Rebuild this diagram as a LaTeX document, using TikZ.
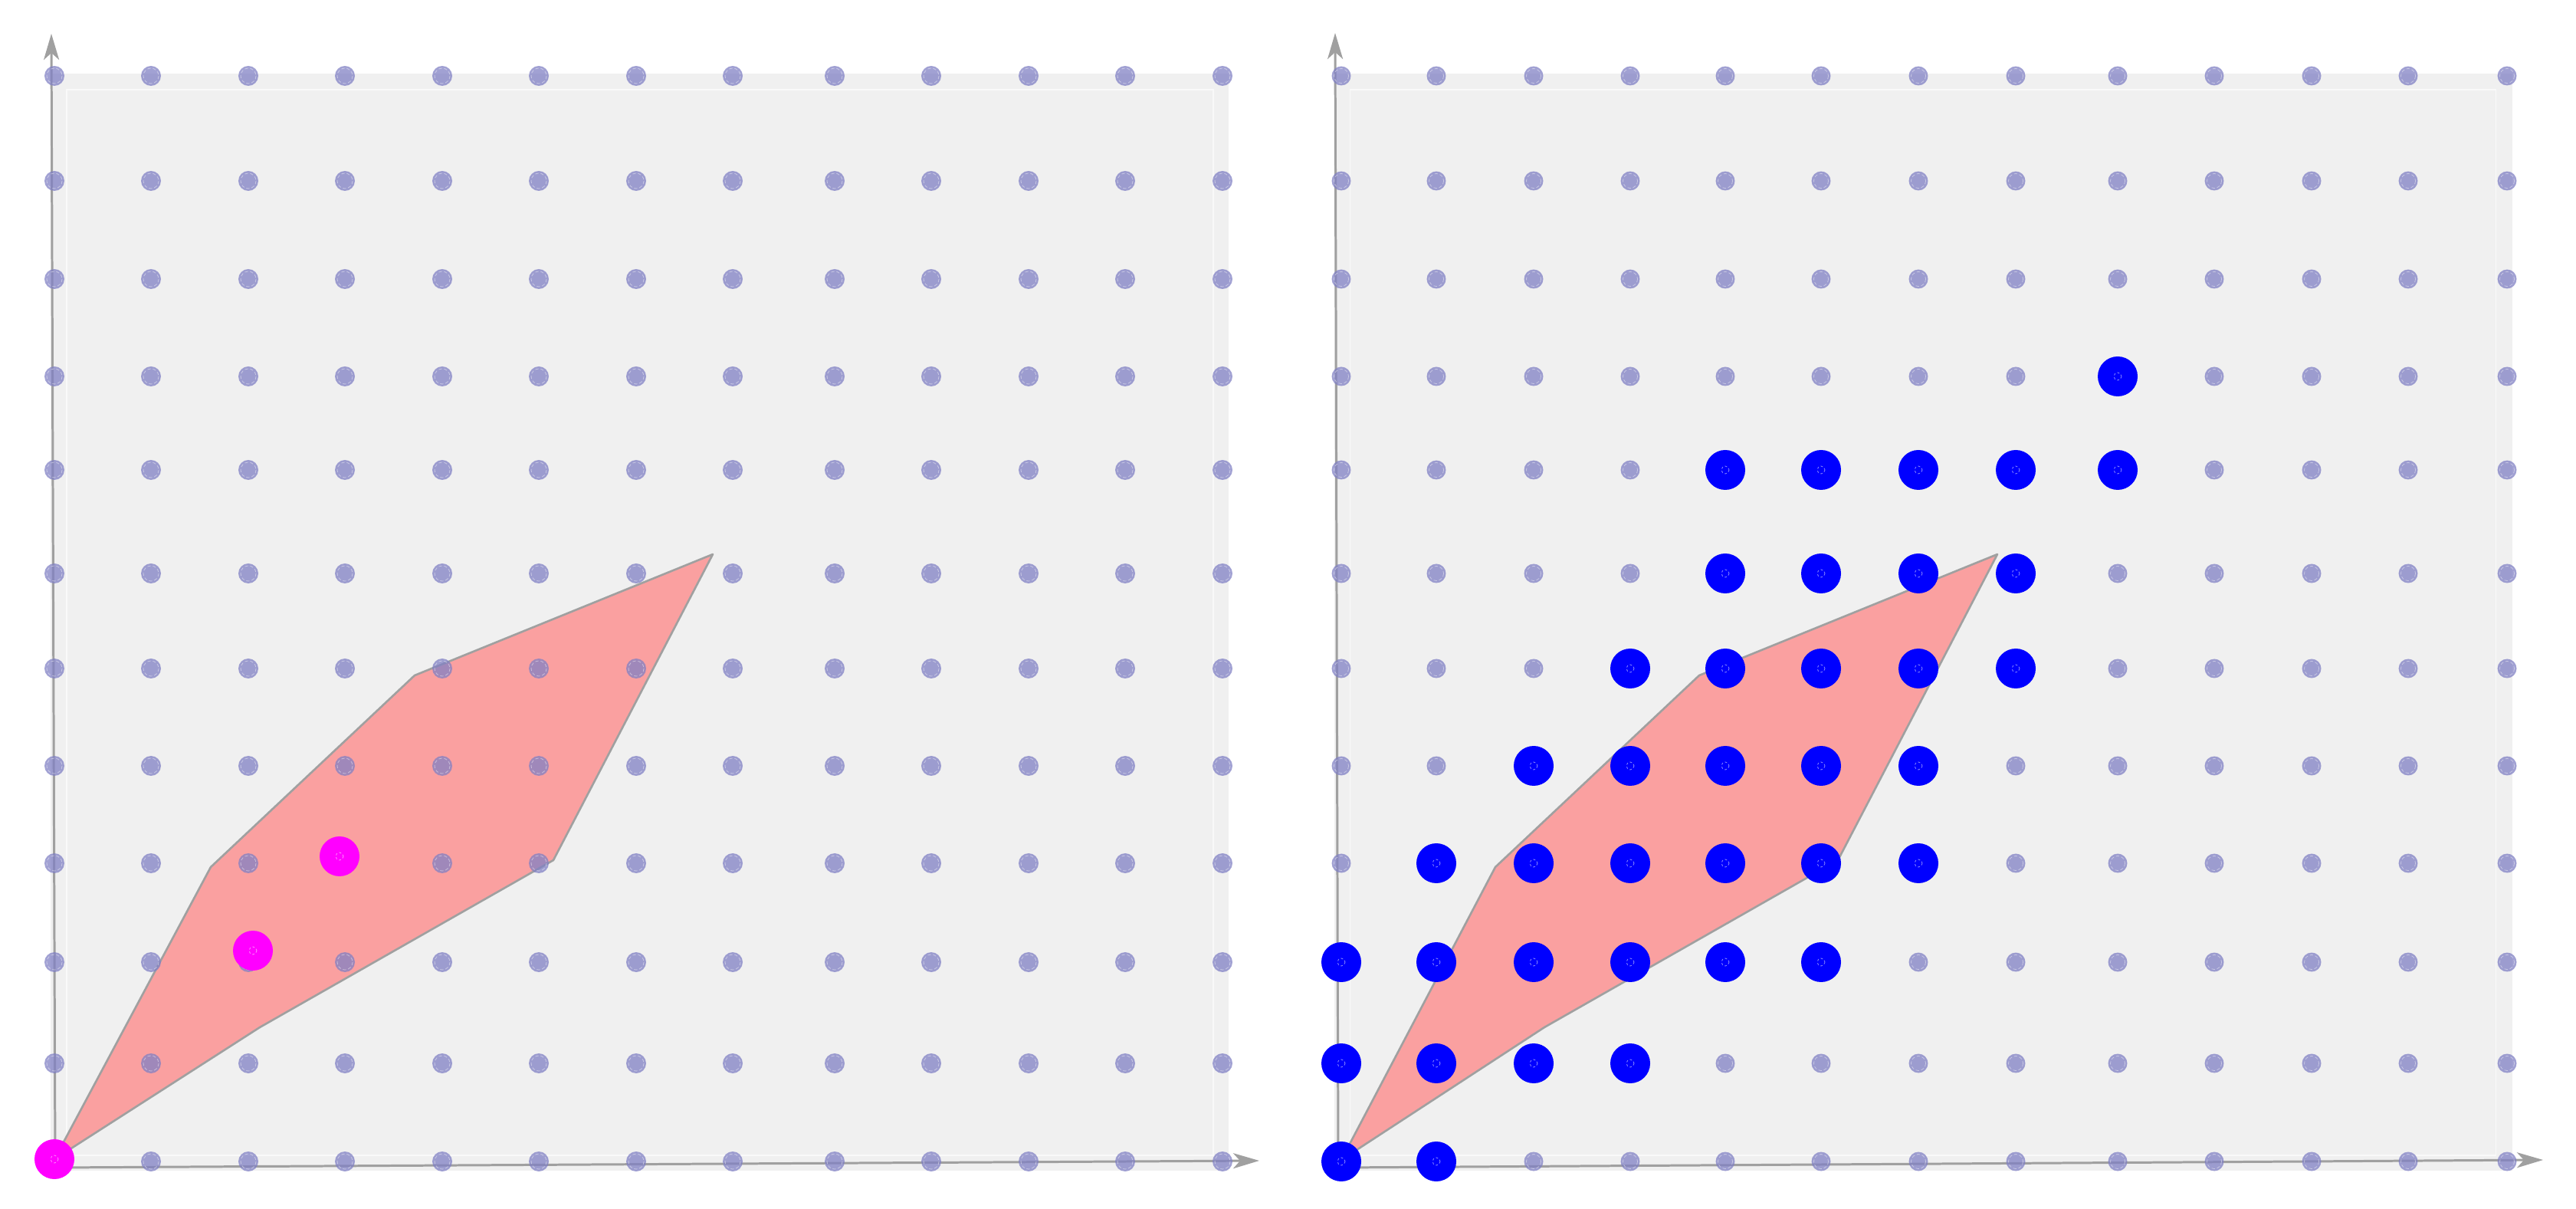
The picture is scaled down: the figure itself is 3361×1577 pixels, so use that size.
\documentclass[tikz,border=0pt]{standalone}
\usetikzlibrary{arrows.meta}
\definecolor{bgg}{RGB}{240,240,240}
\definecolor{axisg}{RGB}{160,160,160}
\definecolor{latt}{RGB}{128,128,196}
\definecolor{salmonfill}{RGB}{250,160,160}
\definecolor{magdot}{RGB}{255,0,255}
\definecolor{bludot}{RGB}{0,0,255}
\begin{document}
\begin{tikzpicture}[x=0.01cm,y=-0.01cm,
  bgbox/.style={fill=bgg},
  innerframe/.style={draw=white,draw opacity=0.6,line width=0.3pt},
  axisline/.style={draw=axisg,line width=0.85pt,-{Stealth[length=0.34cm,width=0.2cm,inset=0.09cm]}},
  region/.style={fill=salmonfill,draw=axisg,line width=0.75pt,line join=round},
  lattdot/.style={fill=latt,fill opacity=0.74},
  ring/.style={draw=white,draw opacity=0.45,line width=0.22pt,dash pattern=on 1.2pt off 0.8pt},
  bigdot/.style={fill=#1},
  smallring/.style={draw=white,draw opacity=0.5,line width=0.25pt,dash pattern=on 0.8pt off 0.8pt}]
\useasboundingbox (0,0) rectangle (3361,1577);
\def\RX{{1750,1874,2001,2127,2251,2376,2503,2630,2763,2889,3016,3142,3271}}
\def\RYY{{1515,1387,1255,1126,999,872,748,613,491,364,236,99}}
% ---------- left panel ----------
\fill[bgbox] (66,96) rectangle (1603,1527);
\draw[innerframe] (87,117) rectangle (1583,1507);
\coordinate (LO) at (72,1523);
\coordinate (LXend) at (1643,1514);
\coordinate (LYend) at (67,44);
\draw[axisline] (LO) -- (LXend);
\draw[axisline] (LO) -- (LYend);
\draw[region] (71,1512) -- (275,1131) -- (541,881) -- (930,723) -- (722,1122) -- (339,1340) -- cycle;
\foreach \x in {71,197,324,450,577,703,830,956,1089,1215,1342,1468,1595}
  \foreach \y in {1515,1387,1255,1126,999,872,748,613,491,364,236,99}
  {\fill[lattdot] (\x,\y) circle (13); \draw[ring] (\x,\y) circle (10);}
\foreach \p in {(71,1512),(330,1240),(443,1117)}
  {\fill[bigdot=magdot] \p circle (26); \draw[smallring] \p circle (5);}
% ---------- right panel ----------
\fill[bgbox] (1741,96) rectangle (3278,1527);
\draw[innerframe] (1761,117) rectangle (3256,1507);
\coordinate (RO) at (1746,1523);
\coordinate (RXend) at (3318,1513);
\coordinate (RYend) at (1742,43);
\draw[axisline] (RO) -- (RXend);
\draw[axisline] (RO) -- (RYend);
\draw[region] (1750,1513) -- (1951,1131) -- (2217,881) -- (2606,723) -- (2398,1122) -- (2015,1340) -- cycle;
\foreach \x in {1750,1874,2001,2127,2251,2376,2503,2630,2763,2889,3016,3142,3271}
  \foreach \y in {1515,1387,1255,1126,999,872,748,613,491,364,236,99}
  {\fill[lattdot] (\x,\y) circle (12.5); \draw[ring] (\x,\y) circle (9.5);}
\foreach \c/\r in {0/0,1/0,
  0/1,1/1,2/1,3/1,
  0/2,1/2,2/2,3/2,4/2,5/2,
  1/3,2/3,3/3,4/3,5/3,6/3,
  2/4,3/4,4/4,5/4,6/4,
  3/5,4/5,5/5,6/5,7/5,
  4/6,5/6,6/6,7/6,
  4/7,5/7,6/7,7/7,8/7,
  8/8}
  {\pgfmathsetmacro\px{\RX[\c]}\pgfmathsetmacro\py{\RYY[\r]}
   \fill[bigdot=bludot] (\px,\py) circle (26); \draw[smallring] (\px,\py) circle (5);}
\end{tikzpicture}
\end{document}
